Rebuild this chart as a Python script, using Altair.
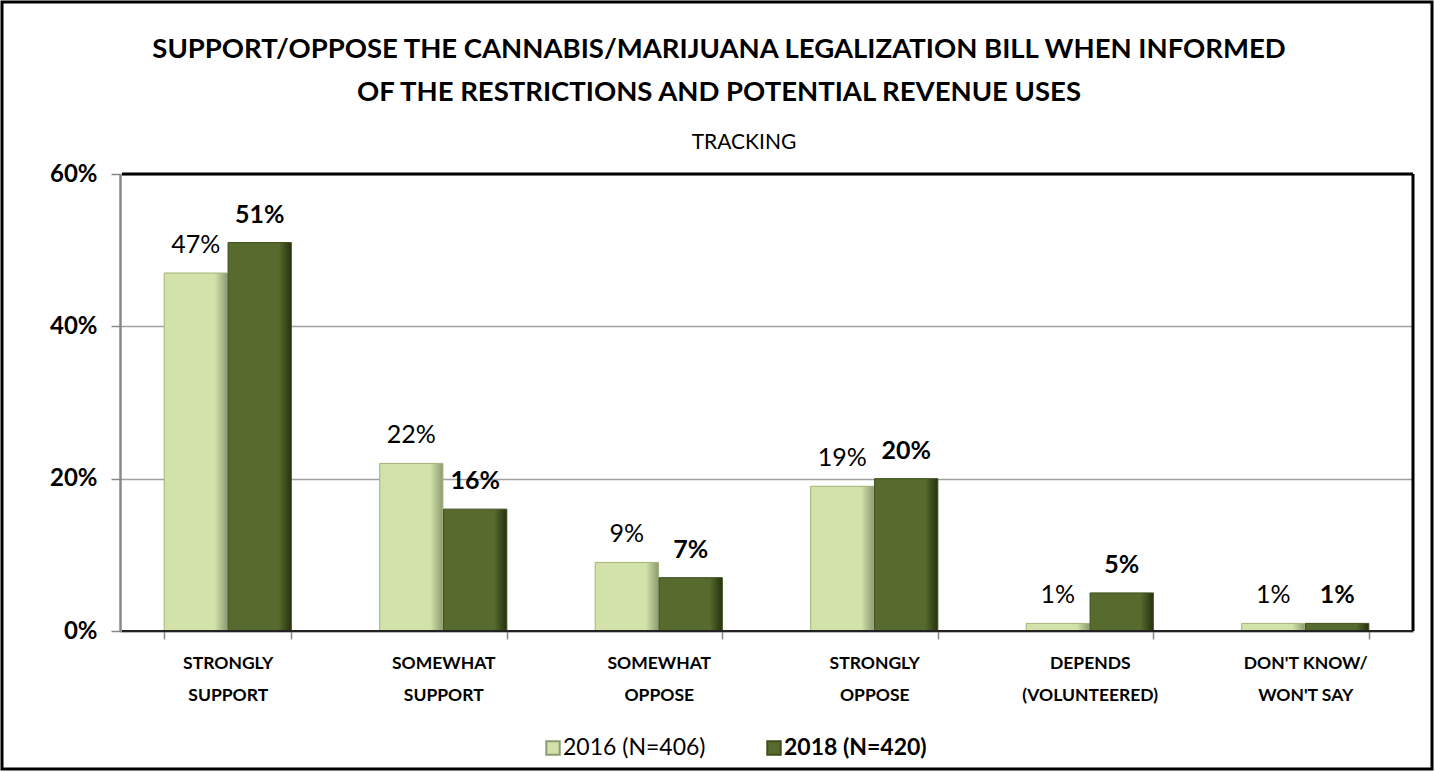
import json
import altair as alt
import pandas as pd

# ---------------- data ----------------
categories = ["Strongly Support", "Somewhat Support", "Somewhat Oppose",
              "Strongly Oppose", "Depends (volunteered)", "Don't Know/ Won't Say"]
category_lines = [["STRONGLY", "SUPPORT"], ["SOMEWHAT", "SUPPORT"], ["SOMEWHAT", "OPPOSE"],
                  ["STRONGLY", "OPPOSE"], ["DEPENDS", "(VOLUNTEERED)"], ["DON'T KNOW/", "WON'T SAY"]]
years = ["2016", "2018"]
values_2016 = [47, 22, 9, 19, 1, 1]
values_2018 = [51, 16, 7, 20, 5, 1]
legend_labels = ["2016 (N=406)", "2018 (N=420)"]
y_ticks = [0, 20, 40, 60]

title_lines = ["SUPPORT/OPPOSE THE CANNABIS/MARIJUANA LEGALIZATION BILL WHEN INFORMED",
               "OF THE RESTRICTIONS AND POTENTIAL REVENUE USES"]
subtitle = "TRACKING"

rows = []
for c, a, b in zip(categories, values_2016, values_2018):
    rows.append({"category": c, "year": "2016", "value": a})
    rows.append({"category": c, "year": "2018", "value": b})
df = pd.DataFrame(rows)

FONT = "Lato"
W, H = 1293, 457
LIGHT = "#d2e2a8"
DARK = "#566b2d"

label_expr = " : ".join(
    f"datum.value == {json.dumps(c)} ? {json.dumps(l)}" for c, l in zip(categories, category_lines)
) + " : datum.value"

x_enc = alt.X("category:N", sort=categories, title=None,
              scale=alt.Scale(paddingInner=0.41, paddingOuter=0.205),
              axis=alt.Axis(labelExpr=label_expr, labelAngle=0, labelFont=FONT,
                            labelFontSize=17.5, labelFontWeight="bold", labelColor="#000",
                            labelLineHeight=32, labelPadding=15, tickBand="extent",
                            tickSize=8, tickColor="#888", tickWidth=1.5,
                            domainColor="#888", domainWidth=2, grid=False))
xo_enc = alt.XOffset("year:N", sort=years, scale=alt.Scale(domain=years, paddingInner=0.01))
y_enc = alt.Y("value:Q", title=None,
              scale=alt.Scale(domain=[0, 60], nice=False),
              axis=alt.Axis(values=y_ticks, labelExpr="datum.value + '%'", labelFont=FONT,
                            labelFontSize=24, labelFontWeight="bold", labelColor="#000",
                            labelPadding=14, tickSize=9, tickColor="#888", tickWidth=1.5,
                            domainColor="#888", domainWidth=2.5,
                            gridColor="#a0a0a0", gridWidth=1.5))

base = alt.Chart(df).encode(x=x_enc, xOffset=xo_enc, y=y_enc)


def grad(c_main, c_edge):
    return alt.LinearGradient(gradient="linear", x1=0, x2=1, y1=0, y2=0,
                              stops=[alt.GradientStop(color=c_main, offset=0),
                                     alt.GradientStop(color=c_main, offset=0.8),
                                     alt.GradientStop(color=c_edge, offset=1)])


bars16 = base.transform_filter("datum.year == '2016'").mark_bar(
    color=grad(LIGHT, "#8e9a72"), stroke="#a3b27a", strokeWidth=1)
bars18 = base.transform_filter("datum.year == '2018'").mark_bar(
    color=grad(DARK, "#26310f"), stroke="#3d4d1c", strokeWidth=1)

lab = base.transform_calculate(lab="datum.value + '%'")
text16 = lab.transform_filter("datum.year == '2016'").mark_text(
    font=FONT, fontSize=25, dy=-20, baseline="alphabetic", color="#000").encode(text="lab:N")
text18 = lab.transform_filter("datum.year == '2018'").mark_text(
    font=FONT, fontSize=25, fontWeight="bold", dy=-20, baseline="alphabetic",
    color="#000").encode(text="lab:N")

one = pd.DataFrame({"k": [0]})
frame = alt.Chart(one).mark_rect(fillOpacity=0, stroke="#000", strokeWidth=3).encode(
    x=alt.value(-118), x2=alt.value(1312), y=alt.value(-172), y2=alt.value(595))
top_rule = alt.Chart(one).mark_rule(stroke="#000", strokeWidth=3).encode(
    x=alt.value(2), x2=alt.value(W), y=alt.value(0))
right_rule = alt.Chart(one).mark_rule(stroke="#000", strokeWidth=3).encode(
    x=alt.value(W), y=alt.value(0), y2=alt.value(H))
bottom_rule = alt.Chart(one).mark_rule(stroke="#222", strokeWidth=2).encode(
    x=alt.value(2), x2=alt.value(W), y=alt.value(H))

title1 = alt.Chart(one).mark_text(font=FONT, fontSize=27.5, fontWeight="bold", color="#000",
                                  baseline="middle", align="center", text=title_lines[0]).encode(
    x=alt.value(599), y=alt.value(-124))
title2 = alt.Chart(one).mark_text(font=FONT, fontSize=27.5, fontWeight="bold", color="#000",
                                  baseline="middle", align="center", text=title_lines[1]).encode(
    x=alt.value(599), y=alt.value(-81))
sub = alt.Chart(one).mark_text(font=FONT, fontSize=21, color="#000",
                               baseline="middle", align="center", text=subtitle).encode(
    x=alt.value(624), y=alt.value(-31))

leg_sq16 = alt.Chart(one).mark_square(size=180, color=LIGHT, stroke="#8e9a72", opacity=1).encode(
    x=alt.value(433), y=alt.value(574))
leg_tx16 = alt.Chart(one).mark_text(font=FONT, fontSize=23, align="left", baseline="middle",
                                    color="#000", text=legend_labels[0]).encode(
    x=alt.value(443), y=alt.value(574))
leg_sq18 = alt.Chart(one).mark_square(size=180, color=DARK, stroke="#3d4d1c", opacity=1).encode(
    x=alt.value(654), y=alt.value(574))
leg_tx18 = alt.Chart(one).mark_text(font=FONT, fontSize=23, fontWeight="bold", align="left",
                                    baseline="middle", color="#000", text=legend_labels[1]).encode(
    x=alt.value(664), y=alt.value(574))

chart = alt.layer(
    bars16, bars18, top_rule, right_rule, bottom_rule, text16, text18, frame,
    title1, title2, sub, leg_sq16, leg_tx16, leg_sq18, leg_tx18
).properties(
    width=W, height=H,
    padding={"left": 120, "top": 174, "right": 22, "bottom": 141},
    autosize="none",
).configure_view(stroke=None).configure(background="white")

chart.save("out.html", embed_options={"renderer": "svg", "actions": False})
